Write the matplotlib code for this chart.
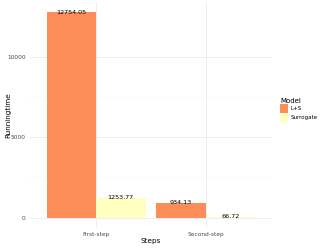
import matplotlib
matplotlib.use("Agg")
import matplotlib.pyplot as plt
import numpy as np
from matplotlib.patches import Patch

steps = ["First-step", "Second-step"]
models = ["L+S", "Surrogate"]
values = {"L+S": [12754.05, 934.13], "Surrogate": [1253.77, 66.72]}
colors = {"L+S": "#FC8D59", "Surrogate": "#FFFFBF"}
yticks = [0, 5000, 10000]

fig = plt.figure(figsize=(3.29, 2.48), dpi=100)
ax = fig.add_axes([30/329, 1 - 228/248, (272-30)/329, (228-2)/248])

x = np.arange(1, len(steps) + 1)
w = 0.45
for i, m in enumerate(models):
    pos = x + (i - 0.5) * w
    ax.bar(pos, values[m], width=w, color=colors[m], zorder=2)
    for p, v in zip(pos, values[m]):
        ax.text(p, v, f"{v:.2f}", ha="center", va="center", fontsize=4.6,
                color="black", zorder=3)

ymax = 12754.05
ax.set_xlim(0.4, 2.6)
ax.set_ylim(-0.05 * ymax, 1.05 * ymax)
ax.set_yticks(yticks)
ax.set_yticks([2500, 7500], minor=True)
ax.set_xticks(x)
ax.set_xticklabels(steps)
ax.tick_params(axis="both", which="both", length=0, labelsize=4.2, colors="#4D4D4D", pad=3)
ax.grid(True, which="major", color="#EBEBEB", linewidth=0.6, zorder=0)
ax.grid(True, which="minor", axis="y", color="#F5F5F5", linewidth=0.4, zorder=0)
for s in ax.spines.values():
    s.set_visible(False)
ax.set_xlabel("Steps", fontsize=5.2)
ax.set_ylabel("Runningtime", fontsize=5.2)
ax.yaxis.set_label_coords((8 - 30) / 242, 0.5)
ax.xaxis.set_label_coords(0.5, (228 - 241) / 226)
ax.xaxis.label.set_va("center")
ax.yaxis.label.set_va("center")

handles = [Patch(facecolor=colors[m], label=m) for m in models]
leg = fig.legend(handles=handles, title="Model", loc="upper left",
                 bbox_to_anchor=(280/329, 1 - 98/248), frameon=False,
                 fontsize=4.0, title_fontsize=5.0, handlelength=1.35,
                 handleheight=2.1, handletextpad=0.6, labelspacing=0.0,
                 borderaxespad=0, borderpad=0)
leg._legend_box.align = "left"

fig.savefig("out.png", dpi=100)
